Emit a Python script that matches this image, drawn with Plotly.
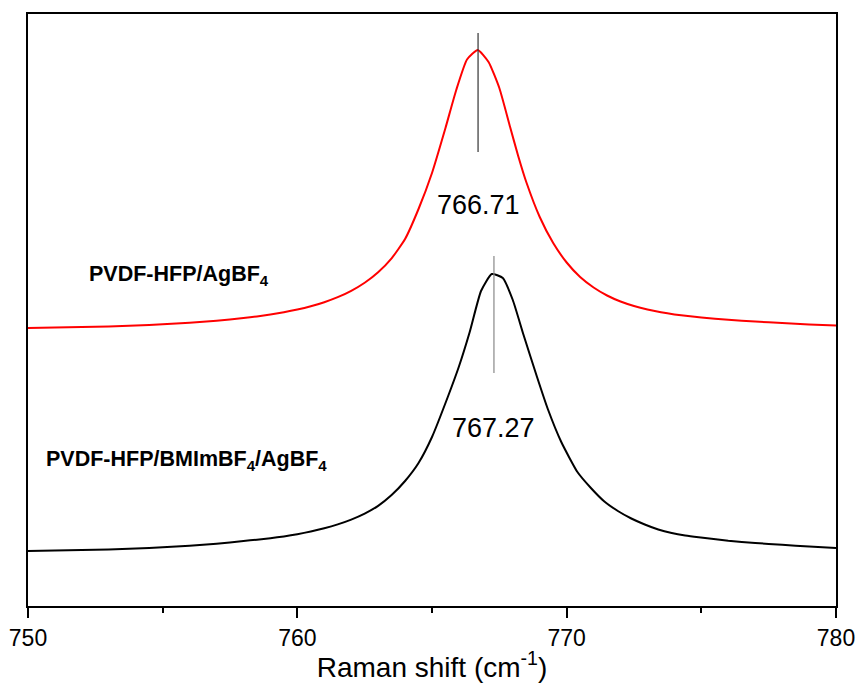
import plotly.graph_objects as go

# Raman shift (cm^-1) and intensity (arbitrary units, offset traces)
red_x = [750, 751, 752, 753, 754, 755, 756, 757, 758, 758.5, 759, 759.5, 760, 760.5,
         761, 761.5, 762, 762.5, 763, 763.5, 764, 764.5, 765, 765.5, 765.9,
         766.3, 766.7, 767.1, 767.5, 767.9, 768.2, 768.5, 769, 769.5, 770, 770.5,
         771, 771.5, 772, 772.5, 773, 773.5, 774, 774.5, 775, 776, 777, 778, 779, 780]
red_y = [278, 278.4, 278.9, 279.6, 280.5, 281.7, 283.2, 285.3, 288, 289.6, 291.5, 293.7, 296.4, 299.7,
         303.8, 308.8, 315.2, 323.3, 333.8, 347.7, 367, 397, 433, 478, 516,
         546.5, 556, 544, 518, 479, 450, 424, 389, 363, 343.5, 329,
         318.5, 310.5, 304.5, 300, 296.5, 293.8, 291.6, 289.9, 288.5, 286.2, 284.4, 282.9, 281.6, 280.5]

black_x = [750, 751, 752, 753, 754, 755, 756, 757, 758, 758.5, 759, 759.5, 760, 760.5,
           761, 761.5, 762, 762.5, 763, 763.5, 764, 764.5, 765, 765.6, 766.0,
           766.4, 766.82, 767.22, 767.63, 768.0, 768.4, 768.9, 769.3, 769.8, 770.4,
           770.9, 771.4, 771.9, 772.4, 772.9, 773.4, 773.9, 774.4, 774.9, 776, 777, 778, 779, 780]
black_y = [55, 55.4, 55.9, 56.6, 57.5, 58.7, 60.2, 62.3, 65, 66.3, 67.8, 69.6, 71.8, 74.5,
           77.7, 81.6, 86.4, 92.4, 100.2, 111, 125, 143, 169, 210, 239.5,
           274, 315, 332, 328, 306, 271, 229, 197, 164, 134,
           118, 104.5, 95, 87.5, 81.5, 76.5, 73, 70.5, 68.7, 65.3, 63, 61.2, 59.5, 58]

peak_pos = [766.71, 767.3]
peak_labels = ["766.71", "767.27"]
peak_line_y = [[454, 573], [233, 350]]
peak_label_y = [401, 178]
peak_line_colors = ["#333333", "#888888"]

series_names = ["PVDF-HFP/AgBF<sub>4</sub>", "PVDF-HFP/BMImBF<sub>4</sub>/AgBF<sub>4</sub>"]
series_label_x = [752.2, 750.6]
series_label_y = [331, 146]

x_ticks = [750, 760, 770, 780]

FONT = "Liberation Sans, Arial, sans-serif"

fig = go.Figure()
fig.add_trace(go.Scatter(x=red_x, y=red_y, mode="lines",
                         line=dict(color="#ff0000", width=2, shape="spline", smoothing=0.5),
                         showlegend=False))
fig.add_trace(go.Scatter(x=black_x, y=black_y, mode="lines",
                         line=dict(color="#000000", width=2, shape="spline", smoothing=0.5),
                         showlegend=False))

for i in range(2):
    fig.add_trace(go.Scatter(x=[peak_pos[i], peak_pos[i]], y=peak_line_y[i], mode="lines",
                             line=dict(color=peak_line_colors[i], width=1.2), showlegend=False))
    fig.add_annotation(x=peak_pos[i], y=peak_label_y[i], text=peak_labels[i],
                       showarrow=False, font=dict(family=FONT, size=27, color="#000000"),
                       xanchor="center", yanchor="middle")
    fig.add_annotation(x=series_label_x[i], y=series_label_y[i], text="<b>" + series_names[i] + "</b>",
                       showarrow=False, font=dict(family=FONT, size=21.5, color="#000000"),
                       xanchor="left", yanchor="middle")

fig.update_layout(
    width=858, height=699,
    margin=dict(l=28, r=22, t=14, b=93),
    paper_bgcolor="white", plot_bgcolor="white",
    font=dict(family=FONT, color="#000000"),
    xaxis=dict(range=[750, 780], tickvals=x_ticks, ticks="outside", ticklen=10, tickwidth=2,
               tickcolor="#000000", showline=True, linewidth=2, linecolor="#000000",
               mirror=True, showgrid=False, zeroline=False, automargin=False,
               tickfont=dict(family=FONT, size=23),
               minor=dict(tickvals=[755, 765, 775], ticks="outside", ticklen=5, tickwidth=2,
                          tickcolor="#000000", showgrid=False),
               title=dict(text="Raman shift (cm<sup>-1</sup>)", font=dict(family=FONT, size=28),
                          standoff=8)),
    yaxis=dict(range=[0, 592], showticklabels=False, ticks="", showline=True, linewidth=2,
               linecolor="#000000", mirror=True, showgrid=False, zeroline=False,
               automargin=False),
)

fig.write_html("out.html")
